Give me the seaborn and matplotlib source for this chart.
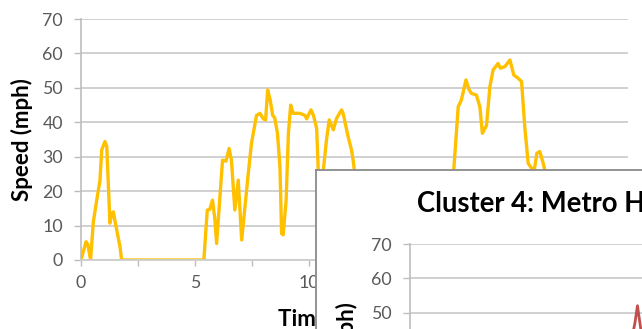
import numpy as np
import pandas as pd
import matplotlib
matplotlib.use("Agg")
import matplotlib.pyplot as plt
import seaborn as sns

# ---------------- data ----------------
main_time = [0, 0.22, 0.3, 0.42, 0.54, 0.69, 0.83, 0.91, 1.05, 1.13, 1.27, 1.35, 1.42, 1.5,
             1.71, 1.78, 5.39, 5.54, 5.65, 5.77, 5.87, 5.95, 6.21, 6.36, 6.5, 6.6, 6.75, 6.9,
             7.05, 7.34, 7.48, 7.7, 7.85, 8.0, 8.1, 8.19, 8.3, 8.41, 8.5, 8.62, 8.73, 8.8,
             8.87, 9.0, 9.1, 9.2, 9.31, 9.6, 9.83, 9.9, 10.09, 10.2, 10.34, 10.41, 10.5,
             10.63, 10.77, 10.89, 11.07, 11.21, 11.43, 11.5, 11.72, 11.87, 11.94, 12.1,
             12.5, 13.5, 15.8, 16.2, 16.36, 16.55, 16.69, 16.89, 17.03, 17.13, 17.35, 17.5,
             17.61, 17.72, 17.79, 17.94, 18.08, 18.3, 18.4, 18.6, 18.82, 18.99, 19.18, 19.33,
             19.47, 19.62, 19.77, 19.9, 20.0, 20.13, 20.28, 20.35, 20.5, 21.0, 22.0, 24.0]
main_speed = [0, 5.3, 4.5, 0, 11, 17.4, 23, 32, 34.4, 33, 10.7, 13.5, 14, 11,
              3.9, 0, 0, 14.5, 14.7, 17.4, 12, 4.8, 29, 28.7, 32.4, 29, 14.5, 23.2,
              5.8, 25.2, 33.9, 42, 42.6, 41, 40.7, 49.4, 46.5, 42, 41.3, 36.8, 27, 7.7,
              7.3, 17.4, 36.8, 45, 42.6, 42.6, 42, 41, 43.6, 42, 38.2, 26.1, 18,
              26, 34.8, 40.7, 37.8, 41.1, 43.6, 42.6, 35.8, 31.9, 29, 20,
              10, 0, 5, 18, 26.6, 44.5, 46.5, 52.3, 49.4, 48.4, 47.9, 44.5,
              36.8, 38.2, 39, 50.3, 55.2, 57.1, 55.7, 56.2, 58.1, 53.7, 52.8, 51.8,
              38.7, 28.1, 26.6, 26.6, 31, 31.5, 28.1, 26.1, 18, 10, 5, 0]

inset_time = [7.0, 7.6, 8.0, 8.25, 8.45, 9.0, 9.6, 9.87, 9.98, 10.13, 10.4, 11.0]
inset_speed = [30, 36, 40, 44.8, 40, 34, 38, 47, 52, 45, 40, 36]

y_ticks = [0, 10, 20, 30, 40, 50, 60, 70]
x_major = [0, 5, 10, 15, 20]
x_minor = [2.5, 7.5, 12.5, 17.5, 22.5]

main_ylabel = "Speed (mph)"
main_xlabel = "Time (minutes)"
inset_title = "Cluster 4: Metro Highway"

main_df = pd.DataFrame({"t": main_time, "speed": main_speed})
inset_df = pd.DataFrame({"t": inset_time, "speed": inset_speed})

# ---------------- style ----------------
sns.set_theme(style="white")
plt.rcParams['font.family'] = ['Lato', 'DejaVu Sans']

W, H = 642, 329
fig = plt.figure(figsize=(W / 100, H / 100), dpi=100)
fig.patch.set_facecolor("white")


def fx(px):
    return px / W


def fy(py):
    return 1 - py / H


GRID = "#cdcdcd"
AXC = "#bdbdbd"
TICKC = "#595959"
LABEL_FS = 16


def style_axes(a):
    a.set_ylim(0, 70)
    a.set_xlim(0, 24)
    a.set_yticks(y_ticks)
    a.yaxis.grid(True, color=GRID, lw=1.3)
    a.xaxis.grid(False)
    for s in ["top", "right"]:
        a.spines[s].set_visible(False)
    a.spines["left"].set_color(AXC)
    a.spines["left"].set_linewidth(1.2)
    a.spines["bottom"].set_color(GRID)
    a.spines["bottom"].set_linewidth(1.3)
    a.tick_params(axis="y", left=True, length=5, width=1, color=AXC, pad=8,
                  labelsize=12.8, labelcolor=TICKC)
    a.tick_params(axis="x", which="both", bottom=True, length=4, width=1, color=AXC,
                  pad=7, labelsize=12.8, labelcolor=TICKC)
    a.set_axisbelow(True)


# ---------------- main chart ----------------
ax = fig.add_axes([fx(81), fy(260), (628 - 81) / W, (260 - 19) / H], zorder=1)
style_axes(ax)
ax.set_xticks(x_major, [str(v) for v in x_major])
ax.set_xticks(x_minor, minor=True)
sns.lineplot(data=main_df, x="t", y="speed", ax=ax, color="#FFC000", lw=2.4,
             estimator=None, sort=False, solid_joinstyle="round")
ax.set_ylabel(main_ylabel, fontsize=LABEL_FS, fontweight="bold", color="black")
ax.yaxis.set_label_coords((33 - 81) / 547, 0.5)
ax.set_xlabel(main_xlabel, fontsize=LABEL_FS, fontweight="bold", color="black", ha="left")
ax.xaxis.set_label_coords((278 - 81) / 547, (260 - 308) / 241)

# ---------------- inset chart (overlapping, cropped) ----------------
ax_bg = fig.add_axes([fx(316), fy(700), 1.0, (700 - 170) / H], zorder=2)
ax_bg.set_facecolor("white")
ax_bg.set_xticks([])
ax_bg.set_yticks([])
for s in ax_bg.spines.values():
    s.set_visible(True)
    s.set_color("#8a8a8a")
    s.set_linewidth(1.3)

ax_in = fig.add_axes([fx(410), fy(484), 547 / W, (484 - 244) / H], zorder=3)
ax_in.patch.set_alpha(0)
style_axes(ax_in)
ax_in.set_xticks(x_major, [str(v) for v in x_major])
sns.lineplot(data=inset_df, x="t", y="speed", ax=ax_in, color="#C0504D", lw=2.0,
             estimator=None, sort=False, solid_joinstyle="round")
ax_in.set_ylabel(main_ylabel, fontsize=LABEL_FS, fontweight="bold", color="black")
ax_in.yaxis.set_label_coords((358 - 410) / 547, 0.5)
ax_in.set_xlabel("")

fig.text(fx(417), fy(212), inset_title, fontsize=19.8, fontweight="bold", color="black",
         ha="left", va="baseline", zorder=5)

fig.savefig("out.png", dpi=100)
